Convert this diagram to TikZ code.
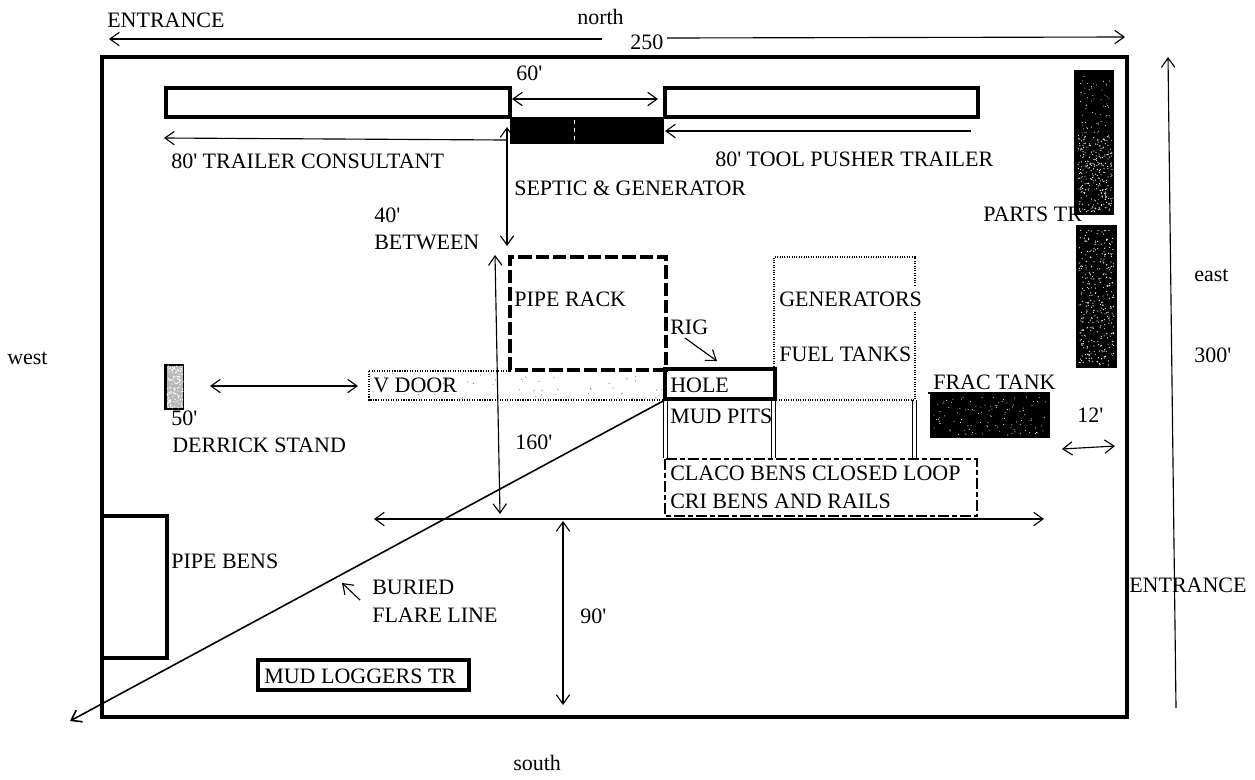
\documentclass[tikz,border=0pt]{standalone}
\usepackage{fontspec}
\setmainfont{Liberation Serif}
\usetikzlibrary{arrows.meta, positioning}
\newcommand{\ft}{\textquotesingle}

\begin{document}
\begin{tikzpicture}[
  x=0.75pt, y=-0.75pt,
  label/.style={anchor=west, inner sep=0pt, font=\fontsize{16.5}{19}\selectfont},
  wall/.style={draw=black, line width=#1},
  dim/.style={line width=0.85pt, black, {Straight Barb[length=7pt, width=10pt]}-{Straight Barb[length=7pt, width=10pt]}},
  lead/.style={line width=0.85pt, black, -{Straight Barb[length=7pt, width=10pt]}},
]
  \useasboundingbox (0,0) rectangle (1255,779);
  \fill[white] (0,0) rectangle (1255,779);
  \pgfmathsetseed{42}

  % Site
  \draw[wall=3.4pt] (102,57) rectangle (1127,717);

  % Trailers
  \draw[wall=2.3pt] (166,88) rectangle (510,117);
  \draw[wall=2.3pt] (665,88) rectangle (978,117);
  \fill[black] (510,117) rectangle (664,144);
  \draw[white, line width=0.6pt, dashed] (574,120) -- (574,142);

  % Parts trailers and frac tank
  \fill[black] (1074,70) rectangle (1114,215);
  \fill[black] (1076,225) rectangle (1117,368);
  \fill[black] (930,394) rectangle (1050,438);
  \foreach \i in {1,...,60} \fill[white] ({1080+30*rnd},{75+60*rnd}) circle (0.5);
  \foreach \i in {1,...,260} \fill[white] ({1078+34*rnd},{135+77*rnd}) circle (0.6);
  \foreach \i in {1,...,320} \fill[white] ({1079+35*rnd},{230+135*rnd}) circle (0.6);
  \foreach \i in {1,...,110} \fill[white] ({934+112*rnd},{397+38*rnd}) circle (0.5);

  % V door and derrick stand
  \foreach \i in {1,...,30} \fill[gray] ({512+150*rnd},{375+24*rnd}) circle (0.6);
  \foreach \i in {1,...,25} \fill[gray] ({372+135*rnd},{373+25*rnd}) circle (0.6);
  \draw[line width=0.9pt, densely dotted] (369,371) -- (510,371) (369,371) -- (369,400) -- (665,400);
  \fill[black] (164,364) rectangle (184,410);
  \fill[gray!55] (167,366) rectangle (183,408);
  \foreach \i in {1,...,130} \fill[white] ({167+16*rnd},{366+42*rnd}) circle (0.7);

  % Pipe rack, generators, closed loop
  \draw[wall=2.4pt, dash pattern=on 10pt off 3pt] (510,370) -- (510,257) -- (666,257) -- (666,370) -- (510,370);
  \draw[line width=0.8pt, densely dotted] (774,369) -- (774,257) -- (915,257) -- (915,285) (915,312) -- (915,400) -- (775,400);
  \draw[wall=2.1pt, dash pattern=on 8pt off 2.5pt on 3.5pt off 2.5pt] (665,459) rectangle (977,516);

  % Mud pits
  \foreach \xa in {665,773.5,914} {
    \draw[line width=0.7pt] (\xa-2,400) -- (\xa-2,458) (\xa+2,400) -- (\xa+2,458);
  }

  % Hole
  \draw[wall=3.2pt] (665,369) rectangle (775,399);
  \coordinate (hole) at (665,400);

  % Pipe bens and mud loggers
  \draw[wall=2.7pt] (102,516) rectangle (167,658);
  \draw[wall=2.7pt] (258,660) rectangle (469,690);

  % Arrow ends
  \coordinate (northL) at (109,39);
  \coordinate (northM) at (602,39);
  \coordinate (northN) at (667,38);
  \coordinate (northR) at (1125,37);
  \coordinate (gapL) at (512,99);
  \coordinate (gapR) at (658,99);
  \coordinate (consE) at (506,140);
  \coordinate (consW) at (164,138);
  \coordinate (toolE) at (971,131);
  \coordinate (toolW) at (665,131);
  \coordinate (septicT) at (507,127);
  \coordinate (septicB) at (507,246);
  \coordinate (rackT) at (495,255);
  \coordinate (rackB) at (500,514);
  \coordinate (rigA) at (685,338);
  \coordinate (rigB) at (717,361);
  \coordinate (doorL) at (210,386);
  \coordinate (doorR) at (358,386);
  \coordinate (tankL) at (1062,449);
  \coordinate (tankR) at (1115,446);
  \coordinate (acrossL) at (374,519);
  \coordinate (acrossR) at (1044,519);
  \coordinate (southT) at (563,521);
  \coordinate (southB) at (563,705);
  \coordinate (flareE) at (70,721);
  \coordinate (buriedA) at (360,600);
  \coordinate (buriedB) at (342,583);
  \coordinate (eastB) at (1176,708);
  \coordinate (eastT) at (1168,57);

  % Arrows
  \draw[lead] (northM) -- (northL);
  \draw[lead] (northN) -- (northR);
  \draw[dim] (gapL) -- (gapR);
  \draw[lead] (consE) -- (consW);
  \draw[lead] (toolE) -- (toolW);
  \draw[dim] (septicT) -- (septicB);
  \draw[dim] (rackT) -- (rackB);
  \draw[lead] (rigA) -- (rigB);
  \draw[dim] (doorL) -- (doorR);
  \draw[dim] (tankL) -- (tankR);
  \draw[dim] (acrossL) -- (acrossR);
  \draw[dim] (southT) -- (southB);
  \draw[lead, line width=1.2pt] (hole) -- (flareE);
  \draw[lead] (buriedA) -- (buriedB);
  \draw[lead] (eastB) -- (eastT);
  \draw[line width=0.8pt] (928,393) -- (1050,393);

  % Labels
  \node[label] (entranceN) at (107,20) {ENTRANCE};
  \node[label] (north) at (577,17) {north};
  \node[label] (dim250) at (630,42) {250};
  \node[label] (dim60) at (516,73) {60\ft};
  \node[label] (consultant) at (171,161) {80\ft{} TRAILER CONSULTANT};
  \node[label] (pusher) at (715,159) {80\ft{} TOOL PUSHER TRAILER};
  \node[label] (septic) at (514,188) {SEPTIC \& GENERATOR};
  \node[label] (dim40) at (374,215) {40\ft};
  \node[label] (between) at (374,242) {BETWEEN};
  \node[label] (parts) at (983,214) {PARTS TR};
  \node[label] (east) at (1194,275) {east};
  \node[label] (dim300) at (1194,355) {300\ft};
  \node[label] (west) at (7,358) {west};
  \node[label] (piperack) at (514,299) {PIPE RACK};
  \node[label] (generators) at (779,299) {GENERATORS};
  \node[label] (fuel) at (779,354) {FUEL TANKS};
  \node[label] (rig) at (670,327) {RIG};
  \node[label] (vdoor) at (373,385) {V DOOR};
  \node[label] (holetext) at (670,385) {HOLE};
  \node[label] (mudpits) at (670,416) {MUD PITS};
  \node[label] (frac) at (933,382) {FRAC TANK};
  \node[label] (dim50) at (171,418) {50\ft};
  \node[label] (derrick) at (172,445) {DERRICK STAND};
  \node[label] (dim160) at (515,442) {160\ft};
  \node[label] (dim12) at (1077,415) {12\ft};
  \node[label] (claco) at (670,473) {CLACO BENS CLOSED LOOP};
  \node[label] (cri) at (670,501) {CRI BENS AND RAILS};
  \node[label] (pipebens) at (171,561) {PIPE BENS};
  \node[label] (buried) at (372,587) {BURIED};
  \node[label] (flare) at (372,615) {FLARE LINE};
  \node[label] (dim90) at (580,616) {90\ft};
  \node[label] (loggers) at (264,676) {MUD LOGGERS TR};
  \node[label] (entranceE) at (1129,585) {ENTRANCE};
  \node[label] (south) at (513,763) {south};
\end{tikzpicture}
\end{document}
